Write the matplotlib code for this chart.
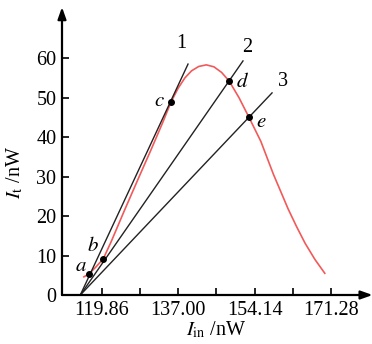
import matplotlib
matplotlib.use("Agg")
import matplotlib.pyplot as plt

plt.rcParams['font.family'] = ['Liberation Serif', 'DejaVu Serif']
plt.rcParams['mathtext.fontset'] = 'stix'

# transmitted vs incident intensity
curve_in = [115.9, 117.0, 118.5, 120.2, 122.0, 125.0, 128.0, 131.0, 133.5, 135.4,
            137.0, 138.5, 140.0, 141.6, 143.3, 145.0, 146.7, 148.4, 150.6, 152.8,
            155.5, 158.3, 161.6, 163.5, 165.4, 167.6, 169.8]
curve_t = [4.6, 5.3, 7.0, 9.1, 13.5, 21.5, 29.3, 37.0, 43.6, 48.9,
           52.4, 55.0, 56.8, 57.9, 58.3, 57.8, 56.4, 54.2, 50.0, 45.1,
           38.9, 30.6, 21.8, 17.3, 13.1, 9.0, 5.5]

# load lines 1, 2, 3: common start on the axis, end points
line_start = 115.1
line_names = ['1', '2', '3']
line_end_in = [139.2, 151.5, 158.0]
line_end_t = [58.5, 59.3, 51.2]

# marked operating points
point_names = ['a', 'b', 'c', 'd', 'e']
point_in = [117.0, 120.2, 135.4, 148.4, 152.8]
point_t = [5.3, 9.1, 48.9, 54.2, 45.1]

xticks = [119.86, 128.43, 137.00, 145.57, 154.14, 162.71, 171.28]
xtick_labels = ['119.86', '', '137.00', '', '154.14', '', '171.28']
yticks = [0, 10, 20, 30, 40, 50, 60]

fig = plt.figure(figsize=(3.72, 3.44), dpi=100)
ax = fig.add_axes([62 / 372, 49 / 344, 303 / 372, 285 / 344])
ax.set_xlim(111.0, 178.8)
ax.set_ylim(0, 72.2)

ax.plot(curve_in, curve_t, color='#f25a5a', lw=1.2, zorder=2)
for name, xe, ye in zip(line_names, line_end_in, line_end_t):
    ax.plot([line_start, xe], [0, ye], color='#222222', lw=1.0, zorder=3, clip_on=False)
ax.plot(point_in, point_t, 'o', color='black', ms=4, zorder=4)

# labels next to lines and points
ax.text(137.6, 63.8, '1', fontsize=14.5, ha='center', va='center')
ax.text(152.4, 62.6, '2', fontsize=14.5, ha='center', va='center')
ax.text(160.4, 54.2, '3', fontsize=14.5, ha='center', va='center')
pt_offsets = [(-1.8, 1.8), (-2.3, 3.3), (-2.7, 0.0), (3.1, -0.3), (2.9, -1.3)]
for name, x, y, (dx, dy) in zip(point_names, point_in, point_t, pt_offsets):
    ax.text(x + dx, y + dy, '$' + name + '$', fontsize=15, ha='center', va='center')

# axes with arrow heads
for side in ['top', 'right', 'left', 'bottom']:
    ax.spines[side].set_visible(False)
ax.annotate('', xy=(1.025, 0), xytext=(0, 0), xycoords='axes fraction',
            arrowprops=dict(arrowstyle='-|>,head_length=0.7,head_width=0.25',
                            color='black', lw=1.6, shrinkA=0, shrinkB=0))
ax.annotate('', xy=(0, 1.01), xytext=(0, 0), xycoords='axes fraction',
            arrowprops=dict(arrowstyle='-|>,head_length=0.7,head_width=0.25',
                            color='black', lw=1.6, shrinkA=0, shrinkB=0))

ax.set_xticks(xticks)
ax.set_xticklabels(xtick_labels)
ax.set_yticks(yticks)
ax.tick_params(direction='in', length=5, width=1.2, labelsize=14.5, pad=4)

ax.set_xlabel(r'$I_{\mathrm{in}}$ /nW', fontsize=14.5, labelpad=2)
ax.set_ylabel(r'$I_{\mathrm{t}}$ /nW', fontsize=14.5)
ax.xaxis.set_label_coords(0.51, -0.085)
ax.yaxis.set_label_coords(-0.12, 0.43)

fig.savefig('out.png', dpi=100)
